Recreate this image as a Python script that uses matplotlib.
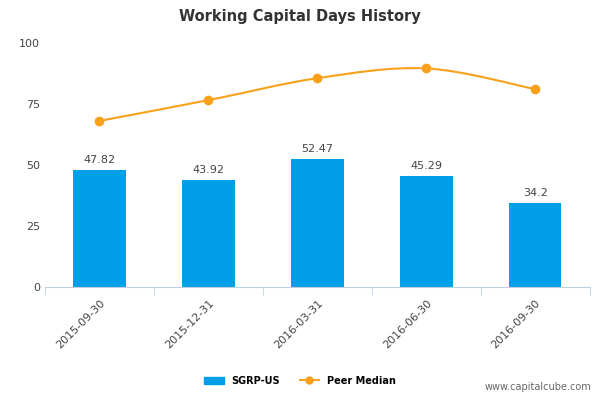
import matplotlib
matplotlib.use("Agg")
import matplotlib.pyplot as plt
from matplotlib.path import Path
from matplotlib.patches import PathPatch
import numpy as np

dates = ["2015-09-30", "2015-12-31", "2016-03-31", "2016-06-30", "2016-09-30"]
sgrp = [47.82, 43.92, 52.47, 45.29, 34.2]
sgrp_labels = ["47.82", "43.92", "52.47", "45.29", "34.2"]
peer = [68, 76.5, 85.5, 89.5, 81]

fig = plt.figure(figsize=(6, 4), dpi=100)
ax = fig.add_axes([0.075, 0.283, 0.908, 0.61])

x = np.arange(len(dates))
ax.bar(x, sgrp, width=0.48, color="#019fe8", zorder=2)
for xi, v, lab in zip(x, sgrp, sgrp_labels):
    ax.text(xi, v + 2, lab, ha="center", va="bottom", fontsize=8, color="#444444")

# smooth peer median line (Catmull-Rom as bezier segments)
pts = np.column_stack([x, peer]).astype(float)
verts = [tuple(pts[0])]
codes = [Path.MOVETO]
for i in range(len(pts) - 1):
    p0 = pts[max(i - 1, 0)]
    p1, p2 = pts[i], pts[i + 1]
    p3 = pts[min(i + 2, len(pts) - 1)]
    c1 = p1 + (p2 - p0) / 6
    c2 = p2 - (p3 - p1) / 6
    verts += [tuple(c1), tuple(c2), tuple(p2)]
    codes += [Path.CURVE4] * 3
ax.add_patch(PathPatch(Path(verts, codes), fill=False, edgecolor="#f9a11b", lw=1.5, zorder=3))
ax.plot(x, peer, "o", color="#f9a11b", ms=6, zorder=4)

ax.set_xlim(-0.5, len(dates) - 0.5)
ax.set_ylim(0, 100)
ax.set_yticks([0, 25, 50, 75, 100])
ax.tick_params(axis="y", length=0, labelsize=8, labelcolor="#444444")
ax.set_xticks(x)
ax.set_xticklabels(dates, rotation=45, ha="right", rotation_mode="anchor", fontsize=8, color="#444444")
ax.set_xticks(np.arange(-0.5, len(dates)), minor=True)
ax.tick_params(axis="x", which="major", length=0, pad=8)
ax.tick_params(axis="x", which="minor", length=6, color="#c0d0e0")
for s in ["top", "right", "left"]:
    ax.spines[s].set_visible(False)
ax.spines["bottom"].set_color("#c0d0e0")

fig.text(0.5, 0.96, "Working Capital Days History", ha="center", va="center",
         fontsize=10.5, fontweight="bold", color="#333333")

h1 = plt.Rectangle((0, 0), 1, 1, color="#019fe8")
h2 = plt.Line2D([], [], color="#f9a11b", marker="o", lw=1.5, ms=5)
fig.legend([h1, h2], ["SGRP-US", "Peer Median"], loc="center", bbox_to_anchor=(0.5, 0.048),
           ncol=2, frameon=False, prop={"size": 7, "weight": "bold"}, handlelength=2)
fig.text(0.985, 0.02, "www.capitalcube.com", ha="right", va="bottom", fontsize=7, color="#666666")

fig.savefig("out.png", dpi=100)
